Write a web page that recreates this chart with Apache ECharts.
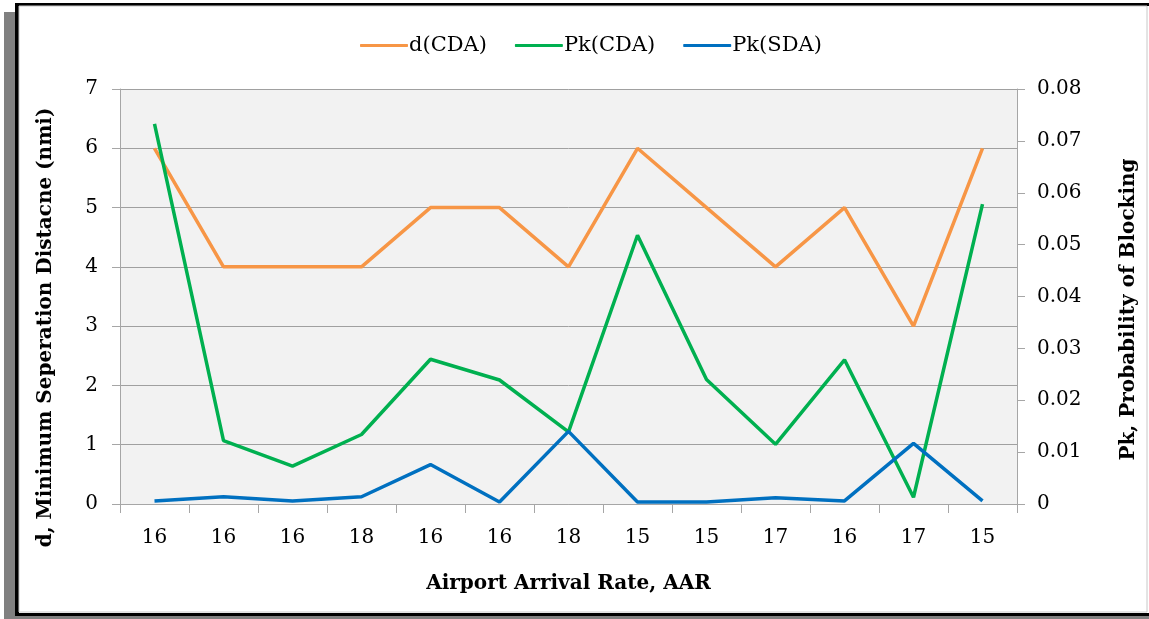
<!DOCTYPE html>
<html>
<head>
<meta charset="utf-8">
<script src="https://cdn.jsdelivr.net/npm/echarts@6/dist/echarts.min.js"></script>
<style>
  html, body { margin: 0; padding: 0; background: #fff; }
  #chart { width: 1149px; height: 619px; }
</style>
</head>
<body>
<div id="chart"></div>
<script>
// airport arrival rate (AAR) per case
var aar = ["16", "16", "16", "18", "16", "16", "18", "15", "15", "17", "16", "17", "15"];
// d(CDA), minimum separation distance (nmi), left axis
var dCDA = [6, 4, 4, 4, 5, 5, 4, 6, 5, 4, 5, 3, 6];
// blocking probabilities, right axis
var pkCDA = [0.0733, 0.0122, 0.0073, 0.0134, 0.0279, 0.0239, 0.0139, 0.0518, 0.0240, 0.0115, 0.0278, 0.0013, 0.0578];
var pkSDA = [0.0006, 0.0014, 0.0006, 0.0014, 0.0076, 0.0004, 0.0140, 0.0004, 0.0004, 0.0012, 0.0006, 0.0117, 0.0006];

var font = "DejaVu Serif";
var chart = echarts.init(document.getElementById("chart"));

var option = {
  backgroundColor: "#fff",
  animation: false,
  textStyle: { fontFamily: font },
  graphic: [
    // frame: grey shadow on the left and bottom, black left/top/bottom edges
    { type: "rect", z: -10, shape: { x: 4, y: 12, width: 12, height: 607 }, style: { fill: "#808080" } },
    { type: "rect", z: -10, shape: { x: 4, y: 616, width: 1145, height: 3 }, style: { fill: "#808080" } },
    { type: "rect", z: -9, shape: { x: 15, y: 3, width: 1134, height: 3 }, style: { fill: "#000" } },
    { type: "rect", z: -9, shape: { x: 15, y: 3, width: 4, height: 613 }, style: { fill: "#000" } },
    { type: "rect", z: -9, shape: { x: 15, y: 613, width: 1134, height: 3 }, style: { fill: "#000" } },
    { type: "rect", z: -9, shape: { x: 19, y: 6, width: 1128, height: 606 },
      style: { fill: "none", stroke: "#c8c8c8", lineWidth: 1 } }
  ],
  legend: {
    top: 30,
    left: 355,
    itemWidth: 48,
    itemHeight: 3,
    itemGap: 28,
    icon: "roundRect",
    textStyle: { fontFamily: font, fontSize: 21, color: "#000", padding: [0, 0, 0, -4] },
    data: ["d(CDA)", "Pk(CDA)", "Pk(SDA)"]
  },
  grid: {
    left: 120,
    right: 132,
    top: 89,
    bottom: 115,
    show: true,
    backgroundColor: "#f2f2f2",
    borderWidth: 0
  },
  xAxis: {
    type: "category",
    data: aar,
    boundaryGap: true,
    name: "Airport Arrival Rate, AAR",
    nameLocation: "middle",
    nameGap: 70,
    nameTextStyle: { fontFamily: font, fontSize: 20, fontWeight: "bold", color: "#000" },
    axisLine: { lineStyle: { color: "#a6a6a6", width: 1 } },
    axisTick: { show: true, length: 9, alignWithLabel: false, lineStyle: { color: "#a6a6a6" } },
    axisLabel: { margin: 24, fontSize: 20, color: "#000", fontFamily: font },
    splitLine: { show: false }
  },
  yAxis: [
    {
      type: "value",
      min: 0,
      max: 7,
      interval: 1,
      position: "left",
      name: "d, Minimum Seperation Distacne (nmi)",
      nameLocation: "middle",
      nameGap: 64,
      nameTextStyle: { fontFamily: font, fontSize: 20, fontWeight: "bold", color: "#000", padding: [0, 62, 0, 0] },
      axisLine: { show: true, lineStyle: { color: "#a6a6a6" } },
      axisTick: { show: true, length: 8, lineStyle: { color: "#a6a6a6" } },
      axisLabel: { margin: 22, fontSize: 20, color: "#000", fontFamily: font },
      splitLine: { show: true, lineStyle: { color: "#a0a0a0", width: 1 } }
    },
    {
      type: "value",
      min: 0,
      max: 0.08,
      interval: 0.01,
      position: "right",
      name: "Pk, Probability of Blocking",
      nameLocation: "middle",
      nameGap: 102,
      nameRotate: 90,
      nameTextStyle: { fontFamily: font, fontSize: 20, fontWeight: "bold", color: "#000", padding: [0, 26, 0, 0] },
      axisLine: { show: true, lineStyle: { color: "#a6a6a6" } },
      axisTick: { show: true, length: 8, lineStyle: { color: "#a6a6a6" } },
      axisLabel: {
        margin: 20, fontSize: 20, color: "#000", fontFamily: font,
        formatter: function (v) { return v === 0 ? "0" : v.toFixed(2); }
      },
      splitLine: { show: false }
    }
  ],
  series: [
    {
      name: "d(CDA)",
      type: "line",
      yAxisIndex: 0,
      data: dCDA,
      symbol: "none",
      itemStyle: { color: "#F79646" },
      lineStyle: { color: "#F79646", width: 3.5 }
    },
    {
      name: "Pk(CDA)",
      type: "line",
      yAxisIndex: 1,
      data: pkCDA,
      symbol: "none",
      itemStyle: { color: "#00B050" },
      lineStyle: { color: "#00B050", width: 3.5 }
    },
    {
      name: "Pk(SDA)",
      type: "line",
      yAxisIndex: 1,
      data: pkSDA,
      symbol: "none",
      itemStyle: { color: "#0070C0" },
      lineStyle: { color: "#0070C0", width: 3.5 }
    }
  ]
};

chart.setOption(option);
window.addEventListener("resize", function () {
  chart.resize();
});
</script>
</body>
</html>
